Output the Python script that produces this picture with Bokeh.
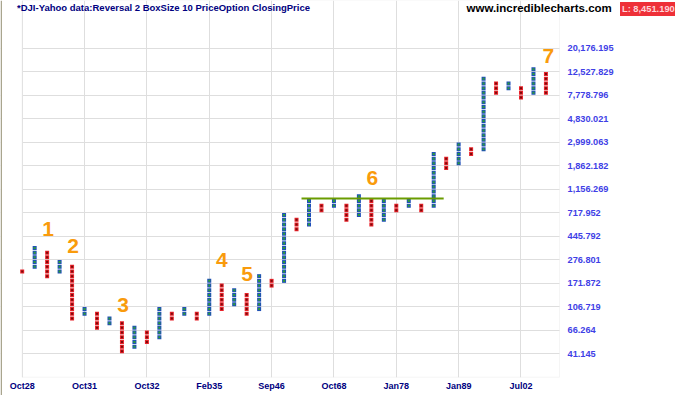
from bokeh.plotting import figure
from bokeh.models import Range1d, FixedTicker, NumeralTickFormatter, Label, BoxAnnotation
from bokeh.core.properties import value
from bokeh.embed import file_html
from bokeh.resources import INLINE

# ---- data (point & figure, box size 10 %, reversal 2) ----
BOX_PCT = 10
BOX = 1 + BOX_PCT / 100.0

# column types (X = rising, O = falling), lowest and highest box index (price = BOX**index)
col_type = list("OXOXOXOXOXOXOXOXOXOXOXOXOXOXOXOXOXOXOXOXOXO")
col_low = [56, 57, 55, 56, 46, 47, 44, 45, 39, 40, 41, 42, 46, 47, 46, 47, 48, 49, 47, 48,
           53, 54, 65, 66, 69, 70, 67, 68, 66, 67, 69, 70, 69, 70, 78, 79, 81, 82, 94, 95,
           93, 94, 94]
col_high = [56, 61, 60, 58, 57, 48, 47, 46, 45, 44, 43, 48, 47, 48, 47, 54, 53, 52, 51, 55,
            54, 68, 67, 71, 70, 71, 70, 72, 71, 71, 70, 71, 70, 81, 80, 83, 82, 97, 96, 96,
            95, 99, 98]

tick_boxes = [39, 44, 49, 54, 59, 64, 69, 74, 79, 84, 89, 94, 99, 104]
floor_box = 34
date_axis_box = 34.75
date_cols = [0, 5, 10, 15, 20, 25, 30, 35, 40]
date_labels = ["Oct28", "Oct31", "Oct32", "Feb35", "Sep46", "Oct68", "Jan78", "Jan89", "Jul02"]
last_col_edge = 43.09

last_price = 8451.190
resist_box = 72
resist_cols = [22.4, 33.8]

wave_labels = ["1", "2", "3", "4", "5", "6", "7"]
wave_cols = [2.07, 4.08, 8.1, 16.0, 18.04, 28.07, 42.2]
wave_boxes = [65.5, 61.9, 49.3, 58.9, 55.9, 76.3, 102.3]   # centre of each number

title_text = "*DJI-Yahoo data:Reversal 2 BoxSize 10 PriceOption ClosingPrice"
site_text = "www.incrediblecharts.com"

# ---- colours ----
X_OUT, X_IN = "#1f4fb8", "#2e9e34"
O_OUT, O_IN = "#e8222a", "#7a0a0a"
GRID = "#dedede"
ORANGE = "#f99b0c"

W, H = 675, 395
p = figure(width=W, height=H, y_axis_type="log", y_axis_location="right",
           x_range=Range1d(-1.740, 52.39),
           y_range=Range1d(BOX ** 30.11, BOX ** 114.15),
           output_backend="svg", toolbar_location=None,
           min_border_left=0, min_border_right=0, min_border_top=0, min_border_bottom=0)
p.background_fill_color = "white"
p.border_fill_color = "white"
p.outline_line_color = None

# axes (drawn at fixed positions inside the canvas)
xa = p.xaxis[0]
xt = FixedTicker(ticks=date_cols)
xa.ticker = xt
xa.fixed_location = BOX ** date_axis_box
xa.major_label_overrides = {c: l for c, l in zip(date_cols, date_labels)}
xa.axis_line_color = None
xa.major_tick_line_color = None
xa.minor_tick_line_color = None
xa.major_label_text_font = "Liberation Sans"
xa.major_label_text_font_style = "bold"
xa.major_label_text_font_size = "9px"
xa.major_label_text_color = "#000080"
xa.major_label_standoff = 1

ya = p.yaxis[0]
yt = FixedTicker(ticks=[BOX ** n for n in tick_boxes])
ya.ticker = yt
ya.fixed_location = last_col_edge
ya.formatter = NumeralTickFormatter(format="0,0.000")
ya.axis_line_color = None
ya.major_tick_line_color = None
ya.minor_tick_line_color = None
ya.major_label_text_font = "Liberation Sans"
ya.major_label_text_font_style = "bold"
ya.major_label_text_font_size = "9.2px"
ya.major_label_text_color = "#3f3fe6"
ya.major_label_standoff = 2

p.xgrid[0].ticker = xt
p.ygrid[0].ticker = yt
p.xgrid.grid_line_color = GRID
p.ygrid.grid_line_color = GRID
p.xgrid.grid_line_width = 1
p.ygrid.grid_line_width = 1

# mask grid outside the chart area, then draw its border
for kw in (dict(right=0), dict(left=last_col_edge), dict(top=BOX ** floor_box)):
    p.add_layout(BoxAnnotation(fill_color="white", fill_alpha=1.0, line_color=None,
                               level="underlay", **kw))
p.add_layout(BoxAnnotation(left=0, right=last_col_edge, bottom=BOX ** floor_box,
                           fill_alpha=0.0, line_color=GRID, line_width=1, level="underlay"))
p.add_layout(BoxAnnotation(right=-1.62, fill_color="#a9a58e", fill_alpha=1.0,
                           line_color=None, level="underlay"))

# marks
xx, xy, ox, oy = [], [], [], []
for i, (t, lo, hi) in enumerate(zip(col_type, col_low, col_high)):
    for n in range(lo, hi + 1):
        if t == "X":
            xx.append(i); xy.append(BOX ** (n + 0.5))
        else:
            ox.append(i); oy.append(BOX ** (n + 0.5))

p.scatter(xx, xy, marker="square", size=4, fill_color=X_OUT, line_color=None)
p.scatter(xx, xy, marker="square", size=2, fill_color=X_IN, line_color=None)
p.scatter(ox, oy, marker="square", size=4, fill_color=O_OUT, line_color=None)
p.scatter(ox, oy, marker="square", size=2, fill_color=O_IN, line_color=None)

# resistance line
p.line(resist_cols, [BOX ** resist_box] * 2, line_color="#6a9c00", line_width=2)

# wave numbers
p.text(x=wave_cols, y=[BOX ** b for b in wave_boxes], text=wave_labels,
       text_font=value("Liberation Sans"), text_font_style="bold",
       text_font_size="21px", text_color=ORANGE,
       text_align="center", text_baseline="middle")

# header texts (screen units measured from the frame's bottom-left corner)
p.add_layout(Label(x=16.5, y=H - 7.0, x_units="screen", y_units="screen", text=title_text,
                   text_font="Liberation Sans", text_font_style="bold",
                   text_font_size="9.5px", text_color="#000080",
                   text_baseline="middle"))
p.add_layout(Label(x=466, y=H - 7.5, x_units="screen", y_units="screen", text=site_text,
                   text_font="Liberation Sans", text_font_style="bold",
                   text_font_size="11.5px", text_color="black",
                   text_baseline="middle"))
p.add_layout(Label(x=619.5, y=H - 8.5, x_units="screen", y_units="screen",
                   text=f"L: {last_price:,.3f}",
                   text_font="Liberation Sans", text_font_style="bold",
                   text_font_size="9.3px", text_color="#ffd4d8",
                   text_baseline="middle",
                   background_fill_color="#ee3038", padding=2))

open("out.html", "w").write(file_html(p, INLINE))
